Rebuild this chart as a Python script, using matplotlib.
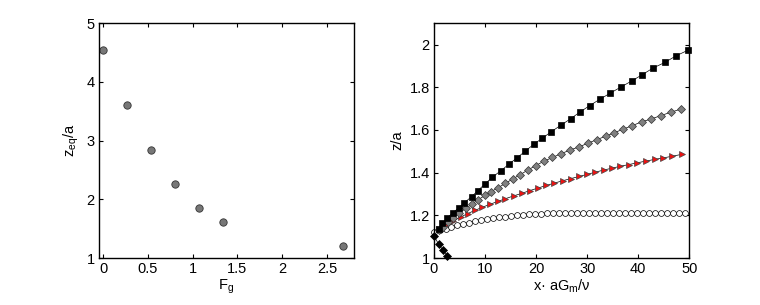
import matplotlib
matplotlib.use("Agg")
import matplotlib.pyplot as plt

plt.rcParams["font.family"] = ["Liberation Sans", "DejaVu Sans"]
plt.rcParams["font.size"] = 10.5
plt.rcParams["mathtext.fontset"] = "custom"
plt.rcParams["mathtext.rm"] = "Liberation Sans"

# left panel: equilibrium height vs gravity number
fg = [0.0, 0.268, 0.536, 0.804, 1.072, 1.34, 2.68]
z_eq = [4.546, 3.604, 2.838, 2.265, 1.857, 1.613, 1.199]

# right panel: trajectories z/a vs x*aG_m/nu
x_sq = [0.9, 1.6, 2.6, 3.7, 4.9, 5.9, 7.4, 8.6, 10.0, 11.4, 13.1, 14.7, 16.3, 17.9, 19.5,
        21.2, 23.0, 24.9, 26.8, 28.6, 30.5, 32.5, 34.5, 36.6, 38.7, 40.8, 42.9, 45.2, 47.4, 49.7]
z_sq = [1.138, 1.162, 1.188, 1.212, 1.236, 1.258, 1.288, 1.316, 1.347, 1.378, 1.409, 1.440,
        1.470, 1.501, 1.532, 1.561, 1.592, 1.623, 1.653, 1.684, 1.714, 1.744, 1.772, 1.801,
        1.829, 1.859, 1.890, 1.916, 1.947, 1.973]

x_di = [0.9, 1.8, 2.8, 3.8, 5.0, 6.2, 7.5, 8.7, 10.0, 11.2, 12.6, 14.0, 15.4, 16.9, 18.4, 19.9,
        21.5, 23.2, 24.9, 26.6, 28.4, 30.1, 31.9, 33.6, 35.3, 37.0, 38.8, 40.7, 42.5, 44.4,
        46.4, 48.4]
z_di = [1.130, 1.147, 1.169, 1.189, 1.211, 1.232, 1.254, 1.274, 1.293, 1.311, 1.330, 1.350,
        1.370, 1.391, 1.412, 1.433, 1.453, 1.471, 1.489, 1.505, 1.521, 1.537, 1.555, 1.570,
        1.587, 1.603, 1.620, 1.638, 1.651, 1.667, 1.683, 1.698]

x_tr = [1.0, 2.4, 3.8, 5.2, 6.6, 8.0, 9.5, 11.0, 12.5, 14.0, 15.6, 17.2, 18.8, 20.4, 22.0,
        23.6, 25.2, 26.8, 28.4, 30.0, 31.6, 33.2, 34.9, 36.5, 38.2, 39.8, 41.5, 43.2, 44.9,
        46.7, 48.6]
z_tr = [1.138, 1.157, 1.175, 1.192, 1.208, 1.223, 1.238, 1.252, 1.265, 1.278, 1.291, 1.303,
        1.316, 1.328, 1.340, 1.351, 1.362, 1.372, 1.382, 1.392, 1.402, 1.412, 1.421, 1.430,
        1.438, 1.446, 1.454, 1.462, 1.469, 1.477, 1.486]

x_ci = [0.1, 1.2, 2.3, 3.4, 4.5, 5.6, 6.8, 8.0, 9.2, 10.4, 11.6, 12.8, 14.0, 15.1, 16.3,
        17.5, 18.6, 19.8, 21.0, 22.2, 23.3, 24.5, 25.7, 26.8, 28.0, 29.2, 30.4, 31.5, 32.7,
        33.9, 35.1, 36.2, 37.4, 38.6, 39.8, 40.9, 42.1, 43.3, 44.5, 45.6, 46.8, 48.0, 49.2]
z_ci = [1.122, 1.130, 1.138, 1.146, 1.153, 1.160, 1.166, 1.172, 1.177, 1.182, 1.186, 1.190,
        1.194, 1.197, 1.200, 1.203, 1.205, 1.207, 1.208, 1.209, 1.210, 1.211, 1.211, 1.212,
        1.212, 1.212, 1.212, 1.212, 1.212, 1.212, 1.212, 1.212, 1.212, 1.212, 1.212, 1.212,
        1.212, 1.212, 1.212, 1.212, 1.212, 1.212, 1.212]

x_bd = [0.0, 0.9, 1.75, 2.65]
z_bd = [1.105, 1.065, 1.038, 1.010]

fig = plt.figure(figsize=(7.6, 3.05), dpi=100)
ax1 = fig.add_axes([0.130, 0.154, 0.3355, 0.770])
ax2 = fig.add_axes([0.571, 0.154, 0.336, 0.770])

ax1.plot(fg, z_eq, "o", ms=5.3, mfc="#777777", mec="#333333", mew=0.6)
ax1.set_xlim(-0.05, 2.8)
ax1.set_ylim(1, 5)
ax1.set_xticks([0, 0.5, 1, 1.5, 2, 2.5])
ax1.set_xticklabels(["0", "0.5", "1", "1.5", "2", "2.5"])
ax1.set_yticks([1, 2, 3, 4, 5])
ax1.set_xlabel(r"F$_\mathregular{g}$", labelpad=1)
ax1.set_ylabel(r"z$_\mathregular{eq}$/a", labelpad=4)

kw = dict(color="black", lw=0.5)
ax2.plot(x_ci, z_ci, "-o", ms=4.2, mfc="white", mec="black", mew=0.5, **kw)
ax2.plot(x_tr, z_tr, "->", ms=5.0, mfc="#ee1111", mec="#444444", mew=0.5, **kw)
ax2.plot(x_di, z_di, "-D", ms=4.2, mfc="#808080", mec="#333333", mew=0.5, **kw)
ax2.plot(x_sq, z_sq, "-s", ms=3.8, mfc="black", mec="black", mew=0.5, **kw)
ax2.plot(x_bd, z_bd, "-D", ms=4.0, mfc="black", mec="black", mew=0.5, **kw)
ax2.set_xlim(0, 50)
ax2.set_ylim(1, 2.1)
ax2.set_xticks([0, 10, 20, 30, 40, 50])
ax2.set_yticks([1, 1.2, 1.4, 1.6, 1.8, 2])
ax2.set_yticklabels(["1", "1.2", "1.4", "1.6", "1.8", "2"])
ax2.set_xlabel(r"x· aG$_\mathregular{m}$/ν", labelpad=1)
ax2.set_ylabel("z/a", labelpad=4)

for ax in (ax1, ax2):
    ax.tick_params(direction="in", top=True, right=True, length=3, width=0.8, pad=3)
    for s in ax.spines.values():
        s.set_linewidth(1.0)
    for m in ax.lines:
        m.set_clip_on(False)

fig.savefig("out.png", dpi=100)
